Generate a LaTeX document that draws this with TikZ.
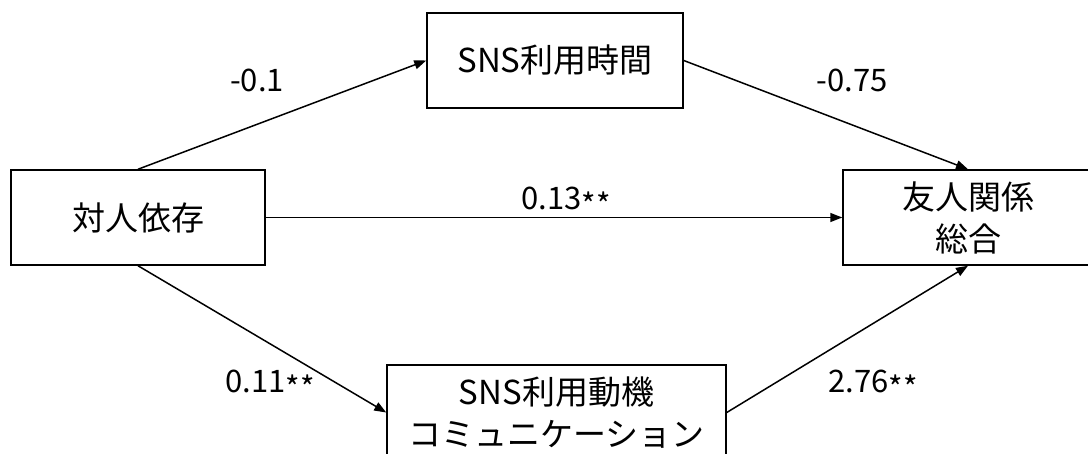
\documentclass[tikz,border=0pt]{standalone}
\usepackage{fontspec}
\setmainfont{Noto Sans CJK JP}
\usetikzlibrary{arrows.meta}
\newcommand{\sigstars}{\raisebox{-0.22em}{**}}
\begin{document}
\begin{tikzpicture}[x=1pt,y=-1pt,
  box/.style={draw,line width=1.5pt,rectangle,minimum width=#1,minimum height=95pt,inner sep=0pt,align=center,font=\fontsize{33}{42}\selectfont},
  conn/.style={line width=1.5pt,-{Triangle[length=12pt,width=9pt]}},
  lbl/.style={font=\fontsize{31}{36}\selectfont,inner sep=0pt}]
\useasboundingbox (0,0) rectangle (1088,454);
\clip (0,0) rectangle (1088,454);
\node[box=254pt] (A) at (138,217.5) {対人依存};
\node[box=256pt] (M) at (555,60.5) {SNS利用時間};
\node[box=339pt] (B) at (556.5,412.5) {SNS利用動機\\コミュニケーション};
\node[box=250pt] (Y) at (968,217.5) {友人関係\\総合};
\draw[conn] (A.north) -- (M.west);
\draw[conn] (M.east) -- (Y.north);
\draw[conn] (A.east) -- (Y.west);
\draw[conn] (A.south) -- (B.west);
\draw[conn] (B.east) -- (Y.south);
\node[lbl,anchor=base] (l1) at (257,92) {-0.1};
\node[lbl,anchor=base] (l2) at (852,92) {-0.75};
\node[lbl,anchor=base] (l3) at (566,210) {0.13\sigstars};
\node[lbl,anchor=base] (l4) at (270,393) {0.11\sigstars};
\node[lbl,anchor=base] (l5) at (873,393) {2.76\sigstars};
\end{tikzpicture}
\end{document}
